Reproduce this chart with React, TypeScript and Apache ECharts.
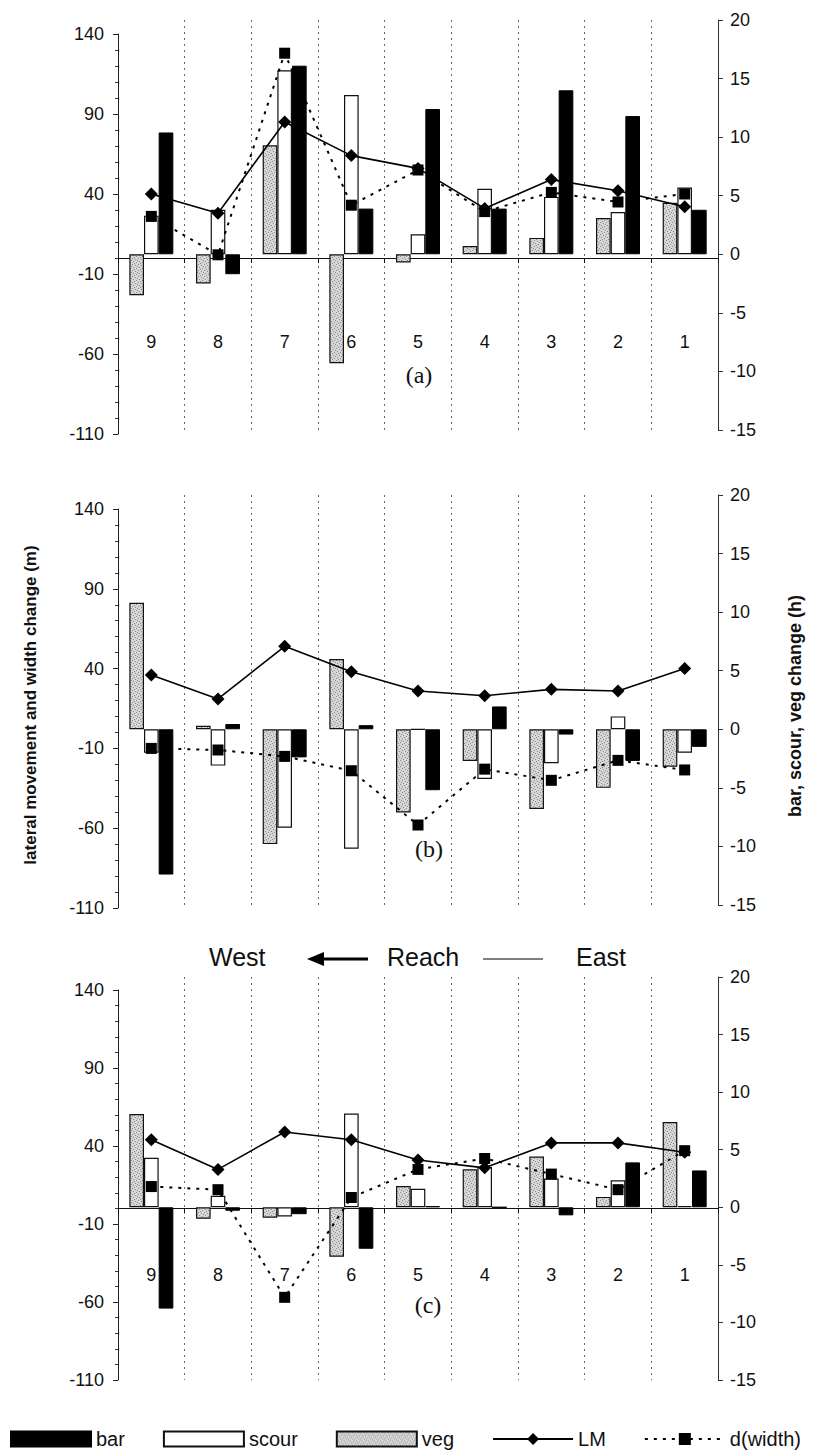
import React, { useEffect, useRef } from "react";
import * as echarts from "echarts";

const categories = ["9", "8", "7", "6", "5", "4", "3", "2", "1"];
const panelTags = ["(a)", "(b)", "(c)"];
const leftTicks = { min: -110, max: 140, interval: 50 };
const rightTicks = { min: -15, max: 20, interval: 5 };

// panel (a)
const vegA = [-3.5, -2.5, 9.3, -9.3, -0.7, 0.7, 1.4, 3.1, 4.4];
const scourA = [3.3, 3.8, 15.7, 13.6, 1.7, 5.6, 4.9, 3.6, 5.7];
const barA = [10.4, -1.7, 16.1, 3.9, 12.4, 3.9, 14.0, 11.8, 3.8];
const lmA = [40, 28, 85, 64, 56, 31, 49, 42, 32];
const dwA = [26, 2, 128, 33, 55, 29, 41, 35, 40];

// panel (b)
const vegB = [10.8, 0.3, -9.8, 6.0, -7.1, -2.7, -6.8, -5.0, -3.2];
const scourB = [-2.0, -3.1, -8.4, -10.2, 0, -4.25, -2.9, 1.1, -2.0];
const barB = [-12.4, 0.45, -2.4, 0.35, -5.2, 1.95, -0.45, -2.7, -1.5];
const lmB = [36, 21, 54, 38, 26, 23, 27, 26, 40];
const dwB = [-10, -11, -15, -24, -58, -23, -30, -17.5, -23.5];

// panel (c)
const vegC = [8.1, -1.0, -0.9, -4.3, 1.85, 3.3, 4.4, 0.9, 7.4];
const scourC = [4.3, 1.0, -0.8, 8.15, 1.6, 3.5, 2.5, 2.35, 0.1];
const barC = [-8.8, -0.3, -0.6, -3.6, 0.1, 0, -0.7, 3.9, 3.2];
const lmC = [44, 25, 49, 44, 31, 26, 42, 42, 36];
const dwC = [14, 12, -57, 7, 25, 32, 22, 12, 37];

const panels = [
  { veg: vegA, scour: scourA, bar: barA, lm: lmA, dw: dwA },
  { veg: vegB, scour: scourB, bar: barB, lm: lmB, dw: dwB },
  { veg: vegC, scour: scourC, bar: barC, lm: lmC, dw: dwC },
];

const sans = "'Liberation Sans', Arial, sans-serif";
const serif = "'Liberation Serif', 'Times New Roman', serif";

// layout per panel: left grid (lines) and right grid (bars)
const layout = [
  { lTop: 34, lH: 400, rTop: 20, rH: 410, showAxis: true, labelMargin: -101, tagX: 419, tagY: 375 },
  { lTop: 509, lH: 399, rTop: 495, rH: 410, showAxis: false, labelMargin: 0, tagX: 429, tagY: 849 },
  { lTop: 990, lH: 390, rTop: 977, rH: 403, showAxis: true, labelMargin: -114, tagX: 428, tagY: 1305 },
];

function makeStipple() {
  const c = document.createElement("canvas");
  c.width = 6;
  c.height = 6;
  const ctx = c.getContext("2d")!;
  ctx.fillStyle = "#d6d6d6";
  ctx.fillRect(0, 0, 6, 6);
  ctx.fillStyle = "#8c8c8c";
  [[0, 0], [3, 1], [1, 3], [4, 4], [5, 2], [2, 5]].forEach(([x, y]) => ctx.fillRect(x, y, 1, 1));
  return c;
}

export default function App() {
  const ref = useRef<HTMLDivElement>(null);
  useEffect(() => {
    if (!ref.current) return;
    const chart = echarts.init(ref.current, null, { renderer: "svg" });
    const stipple = { image: makeStipple(), repetition: "repeat" };

    const grids: any[] = [];
    const xAxes: any[] = [];
    const yAxes: any[] = [];
    const series: any[] = [];
    const graphics: any[] = [];

    layout.forEach((L, p) => {
      const li = p * 2;
      const ri = p * 2 + 1;
      grids.push({ left: 118, right: 98, top: L.lTop, height: L.lH });
      grids.push({ left: 118, right: 98, top: L.rTop, height: L.rH });
      xAxes.push({
        type: "category",
        gridIndex: li,
        data: categories,
        axisLine: { show: L.showAxis, onZero: true, lineStyle: { color: "#111", width: 1 } },
        axisTick: { show: L.showAxis, interval: 0, length: 5, lineStyle: { color: "#111" } },
        axisLabel: {
          show: L.showAxis,
          interval: 0,
          margin: L.labelMargin,
          fontSize: 18,
          fontFamily: sans,
          color: "#111",
        },
        splitLine: { show: false },
      });
      xAxes.push({
        type: "category",
        gridIndex: ri,
        data: categories,
        axisLine: { show: false },
        axisTick: { show: false },
        axisLabel: { show: false },
        splitLine: {
          show: true,
          interval: 0,
          showMinLine: false,
          showMaxLine: false,
          lineStyle: { color: "#666", type: [2, 4], width: 1 },
        },
      });
      yAxes.push({
        type: "value",
        gridIndex: li,
        position: "left",
        min: leftTicks.min,
        max: leftTicks.max,
        interval: leftTicks.interval,
        axisLine: { show: true, lineStyle: { color: "#222", width: 1 } },
        axisTick: { show: true, length: 5, lineStyle: { color: "#222" } },
        minorTick: { show: true, splitNumber: 5, length: 3, lineStyle: { color: "#333" } },
        axisLabel: { margin: 14, fontSize: 18, fontFamily: sans, color: "#111" },
        splitLine: { show: false },
      });
      yAxes.push({
        type: "value",
        gridIndex: ri,
        position: "right",
        min: rightTicks.min,
        max: rightTicks.max,
        interval: rightTicks.interval,
        axisLine: { show: true, lineStyle: { color: "#333", width: 1 } },
        axisTick: { show: true, length: 5, lineStyle: { color: "#333" } },
        axisLabel: { margin: 12, fontSize: 18, fontFamily: sans, color: "#111" },
        splitLine: { show: false },
      });

      const d = panels[p];
      const barCommon = {
        type: "bar",
        xAxisIndex: ri,
        yAxisIndex: ri,
        barGap: "0%",
        barCategoryGap: "34%",
        z: 2,
      };
      series.push({
        ...barCommon,
        name: "veg",
        data: d.veg,
        itemStyle: { color: stipple, borderColor: "#111", borderWidth: 1.2 },
      });
      series.push({
        ...barCommon,
        name: "scour",
        data: d.scour,
        itemStyle: { color: "#ffffff", borderColor: "#111", borderWidth: 1.2 },
      });
      series.push({
        ...barCommon,
        name: "bar",
        data: d.bar,
        itemStyle: { color: "#000000", borderColor: "#000", borderWidth: 1 },
      });
      series.push({
        type: "line",
        name: "LM",
        xAxisIndex: li,
        yAxisIndex: li,
        data: d.lm,
        symbol: "diamond",
        symbolSize: 13,
        z: 5,
        lineStyle: { color: "#000", width: 1.6, type: "solid" },
        itemStyle: { color: "#000" },
      });
      series.push({
        type: "line",
        name: "d(width)",
        xAxisIndex: li,
        yAxisIndex: li,
        data: d.dw,
        symbol: "rect",
        symbolSize: 11,
        z: 6,
        lineStyle: { color: "#000", width: 2, type: [3, 6] },
        itemStyle: { color: "#000" },
      });

      graphics.push({
        type: "text",
        x: L.tagX,
        y: L.tagY,
        style: {
          text: panelTags[p],
          font: `24px ${serif}`,
          fill: "#111",
          textAlign: "center",
          textVerticalAlign: "middle",
        },
      });
    });

    // axis titles
    graphics.push({
      type: "text",
      x: 30,
      y: 705,
      rotation: Math.PI / 2,
      style: {
        text: "lateral movement and width change (m)",
        font: `bold 17px ${sans}`,
        fill: "#111",
        textAlign: "center",
        textVerticalAlign: "middle",
      },
    });
    graphics.push({
      type: "text",
      x: 795,
      y: 706,
      rotation: Math.PI / 2,
      style: {
        text: "bar, scour, veg change (h)",
        font: `bold 18px ${sans}`,
        fill: "#111",
        textAlign: "center",
        textVerticalAlign: "middle",
      },
    });

    // West <- Reach -- East
    const wy = 957;
    graphics.push({
      type: "text",
      x: 209,
      y: wy,
      style: { text: "West", font: `25px ${sans}`, fill: "#111", textAlign: "left", textVerticalAlign: "middle" },
    });
    graphics.push({
      type: "line",
      shape: { x1: 320, y1: wy + 2, x2: 368, y2: wy + 2 },
      style: { stroke: "#000", lineWidth: 3 },
    });
    graphics.push({
      type: "polygon",
      shape: { points: [[307, wy + 2], [324, wy - 5], [324, wy + 9]] },
      style: { fill: "#000" },
    });
    graphics.push({
      type: "text",
      x: 387,
      y: wy,
      style: { text: "Reach", font: `25px ${sans}`, fill: "#111", textAlign: "left", textVerticalAlign: "middle" },
    });
    graphics.push({
      type: "line",
      shape: { x1: 483, y1: wy + 2, x2: 543, y2: wy + 2 },
      style: { stroke: "#000", lineWidth: 1 },
    });
    graphics.push({
      type: "text",
      x: 576,
      y: wy,
      style: { text: "East", font: `25px ${sans}`, fill: "#111", textAlign: "left", textVerticalAlign: "middle" },
    });

    chart.setOption({
      animation: false,
      backgroundColor: "#ffffff",
      grid: grids,
      xAxis: xAxes,
      yAxis: yAxes,
      series,
      graphic: graphics,
      legend: {
        left: 10,
        top: 1429,
        width: 806,
        padding: 0,
        itemWidth: 80,
        itemHeight: 15,
        itemGap: 38,
        textStyle: { fontSize: 20, fontFamily: sans, color: "#111" },
        data: [
          { name: "bar", icon: "rect" },
          { name: "scour", icon: "rect" },
          { name: "veg", icon: "rect" },
          { name: "LM" },
          { name: "d(width)" },
        ],
      },
    });
    return () => chart.dispose();
  }, []);

  return (
    <div
      ref={ref}
      style={{ position: "absolute", left: 0, top: 0, width: 816, height: 1451, background: "#fff" }}
    />
  );
}
